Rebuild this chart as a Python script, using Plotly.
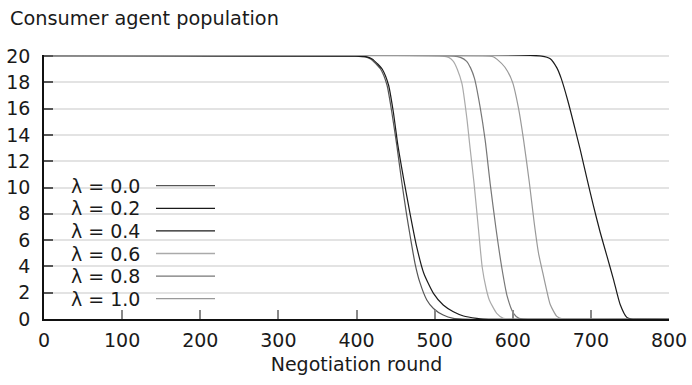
import plotly.graph_objects as go

# ---- data ----
lambda_labels = ["λ = 0.0", "λ = 0.2", "λ = 0.4", "λ = 0.6", "λ = 0.8", "λ = 1.0"]

x_l00 = [0, 398, 410, 418, 425, 431, 439, 445, 451.6, 458, 464, 469, 475, 481, 490, 498.5, 511, 524, 536, 800]
y_l00 = [20, 20, 19.95, 19.78, 19.4, 19.0, 17.8, 15.8, 13.2, 10.4, 8.0, 6.2, 4.2, 2.8, 1.45, 0.8, 0.3, 0.05, 0, 0]

x_l02 = [0, 400, 412, 420, 427, 433, 441, 447, 453, 460.5, 468.6, 477, 486, 498.5, 511, 524, 537, 554, 562, 800]
y_l02 = [20, 20, 19.95, 19.78, 19.4, 19.0, 17.8, 15.8, 13.2, 10.6, 8.0, 5.5, 3.5, 1.95, 1.06, 0.55, 0.23, 0.05, 0, 0]

x_l04 = [0, 637, 648, 656.5, 662, 670.5, 680, 686.3, 694.9, 703.3, 711.9, 720.5, 729, 737.5, 746, 752, 800]
y_l04 = [20, 20, 19.8, 19.1, 18.3, 16.6, 14.4, 12.9, 10.7, 8.6, 6.6, 4.8, 3.0, 1.1, 0.12, 0, 0]

x_l06 = [0, 510, 518, 524, 529, 535, 541.2, 545.4, 550.5, 556, 561, 566, 570, 579.5, 588, 595, 800]
y_l06 = [20, 20, 19.9, 19.6, 19.0, 17.9, 15.3, 13.0, 10.3, 6.9, 3.9, 2.3, 1.45, 0.43, 0.05, 0, 0]

x_l08 = [0, 525, 533, 541, 546, 551, 558.3, 564.7, 571.1, 578.5, 586, 593, 601, 608, 614, 800]
y_l08 = [20, 20, 19.9, 19.6, 19.1, 18.3, 16.1, 13.6, 10.3, 6.9, 3.9, 1.7, 0.43, 0.05, 0, 0]

x_l10 = [0, 570, 575, 580, 590, 599.8, 607.3, 613.8, 621.2, 627.5, 633, 638.5, 643, 648, 656.5, 665, 800]
y_l10 = [20, 20, 19.95, 19.75, 19.15, 18.0, 16.05, 13.65, 10.4, 7.3, 5.0, 3.5, 2.3, 1.1, 0.2, 0, 0]

x_ticks = [0, 100, 200, 300, 400, 500, 600, 700, 800]
y_ticks = [0, 2, 4, 6, 8, 10, 12, 14, 16, 18, 20]

series_x = [x_l00, x_l02, x_l04, x_l06, x_l08, x_l10]
series_y = [y_l00, y_l02, y_l04, y_l06, y_l08, y_l10]

# ---- styles ----
colors = ["#555555", "#1a1a1a", "#1a1a1a", "#aaaaaa", "#777777", "#999999"]
FONT = "DejaVu Sans"
W, H = 692, 385
ML, MR, MT, MB = 44, 23, 55, 66
PW, PH = W - ML - MR, H - MT - MB


def px_x(px):
    return (px - ML) / PW


def px_y(py):
    return (H - MB - py) / PH


fig = go.Figure()
for xs, ys, c, name in zip(series_x, series_y, colors, lambda_labels):
    fig.add_trace(go.Scatter(x=xs, y=ys, mode="lines", name=name,
                             line=dict(color=c, width=1.2, shape="spline", smoothing=0.6),
                             showlegend=False, hoverinfo="skip"))

# legend drawn gnuplot-style: text then sample line
annotations = []
shapes = []
for i, (name, c) in enumerate(zip(lambda_labels, colors)):
    yc = 185.7 + 22.6 * i
    annotations.append(dict(x=px_x(142), y=px_y(yc), xref="paper", yref="paper",
                            text=name, showarrow=False, xanchor="right", yanchor="middle",
                            font=dict(family=FONT, size=19, color="#1a1a1a")))
    shapes.append(dict(type="line", xref="paper", yref="paper",
                       x0=px_x(156), x1=px_x(215), y0=px_y(yc), y1=px_y(yc),
                       line=dict(color=c, width=1.3)))

annotations.append(dict(x=px_x(8), y=px_y(18), xref="paper", yref="paper",
                        text="Consumer agent population", showarrow=False,
                        xanchor="left", yanchor="middle",
                        font=dict(family=FONT, size=19.3, color="#1a1a1a")))

fig.update_layout(
    width=W, height=H,
    margin=dict(l=ML, r=MR, t=MT, b=MB, autoexpand=False),
    paper_bgcolor="white", plot_bgcolor="white",
    font=dict(family=FONT, size=19, color="#1a1a1a"),
    annotations=annotations, shapes=shapes,
    xaxis=dict(range=[0, 800], tickvals=x_ticks, ticks="inside", ticklen=9,
               tickcolor="#888888", tickwidth=1.5, showline=True, linecolor="#111111",
               linewidth=1.5, showgrid=False, zeroline=False, automargin=False,
               tickfont=dict(family=FONT, size=19, color="#1a1a1a"),
               ticklabelstandoff=3,
               title=dict(text="Negotiation round", standoff=8,
                          font=dict(family=FONT, size=19, color="#1a1a1a"))),
    yaxis=dict(range=[0, 20.08], tickvals=y_ticks, ticks="inside", ticklen=9,
               tickcolor="#555555", tickwidth=1.5, showline=True, linecolor="#111111",
               linewidth=1.5, showgrid=True, gridcolor="#e3e3e3", gridwidth=1.5,
               zeroline=False, ticklabelstandoff=8, automargin=False,
               tickfont=dict(family=FONT, size=19, color="#1a1a1a")),
)

fig.write_html("out.html", config={"displayModeBar": False})

# remove the browser's default body margin so the figure sits at the page origin
with open("out.html", "r", encoding="utf-8") as f:
    html = f.read()
html = html.replace("<body>", '<body style="margin:0;padding:0">', 1)
with open("out.html", "w", encoding="utf-8") as f:
    f.write(html)
